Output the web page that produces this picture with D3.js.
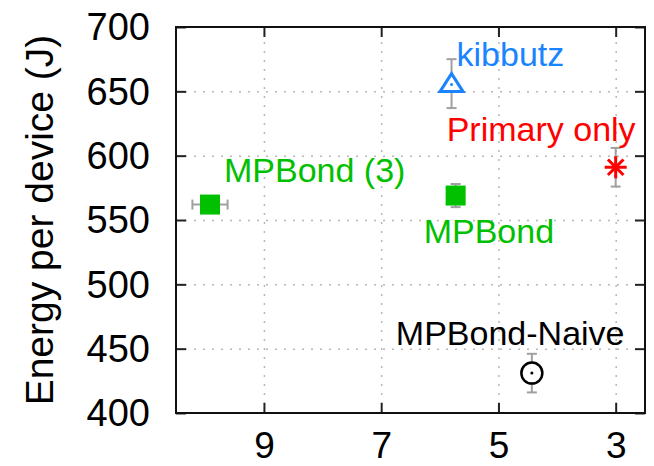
<!DOCTYPE html>
<html><head><meta charset="utf-8">
<script src="https://cdn.jsdelivr.net/npm/d3@7"></script>
<style>
html,body{margin:0;padding:0;background:#fff;}
svg{display:block;font-family:"Liberation Sans",Arial,Helvetica,sans-serif;}
</style></head>
<body>
<svg id="chart" width="654" height="466"></svg>
<script>
// ---- data ----
const names  = ["MPBond (3)", "MPBond", "kibbutz", "Primary only", "MPBond-Naive"];
const xVals  = [9.92, 5.73, 5.8, 3.0, 4.43];
const yVals  = [562, 569, 656, 591, 431];
const xErrs  = [0.3, 0, 0, 0, 0];
const yErrs  = [0, 9, 19, 15, 15];
const xTicks = [9, 7, 5, 3];
const yTicks = [400, 450, 500, 550, 600, 650, 700];
const yLabel = "Energy per device (J)";

// ---- style ----
const markers = ["square", "square", "triangle", "asterisk", "circle"];
const colors  = ["#00c000", "#00c000", "#1a84ff", "#ff0000", "#000000"];
const labelOff = [[14,-23],[-32,47],[5,-18],[-169,-26],[-136,-28]];

const L = 176, R = 645, T = 27, B = 413;
const svg = d3.select("#chart");
const x = d3.scaleLinear().domain([10.5, 2.5]).range([L, R]);
const y = d3.scaleLinear().domain([400, 700]).range([B, T]);

// grid
const gx = svg.append("g").attr("transform", `translate(0,${B})`)
  .call(d3.axisBottom(x).tickValues(xTicks).tickSize(-(B - T)).tickFormat(""));
const gy = svg.append("g").attr("transform", `translate(${L},0)`)
  .call(d3.axisLeft(y).tickValues(yTicks.slice(1, -1)).tickSize(-(R - L)).tickFormat(""));
[gx, gy].forEach(g => {
  g.select(".domain").remove();
  g.selectAll(".tick line").attr("stroke", "#b8b8b8").attr("stroke-width", 1.5)
    .attr("stroke-dasharray", "2,7");
});

// axes with inward ticks
const ax = svg.append("g").attr("transform", `translate(0,${B})`)
  .call(d3.axisBottom(x).tickValues(xTicks).tickSize(-10).tickPadding(18.5));
const axT = svg.append("g").attr("transform", `translate(0,${T})`)
  .call(d3.axisTop(x).tickValues(xTicks).tickSize(-10).tickFormat(""));
const ay = svg.append("g").attr("transform", `translate(${L},0)`)
  .call(d3.axisLeft(y).tickValues(yTicks).tickSize(-10).tickPadding(26));
const ayR = svg.append("g").attr("transform", `translate(${R},0)`)
  .call(d3.axisRight(y).tickValues(yTicks).tickSize(-10).tickFormat(""));
[ax, axT, ay, ayR].forEach(g => {
  g.select(".domain").remove();
  g.selectAll(".tick line").attr("stroke", "#222").attr("stroke-width", 2);
  g.selectAll(".tick text").attr("font-size", 38).attr("fill", "#000")
    .attr("font-family", "Liberation Sans, Arial, sans-serif");
});
ax.selectAll(".tick text").attr("font-size", 37);
ay.selectAll(".tick text").attr("dy", "0.34em");

// frame
svg.append("rect").attr("x", L).attr("y", T).attr("width", R - L).attr("height", B - T)
  .attr("fill", "none").attr("stroke", "#111").attr("stroke-width", 2);

// y label
svg.append("text")
  .attr("transform", `translate(53,${(T + B) / 2}) rotate(-90)`)
  .attr("text-anchor", "middle").attr("font-size", 39).attr("fill", "#000")
  .text(yLabel);

// error bars
const eb = svg.append("g").attr("stroke", "#a0a0a0").attr("stroke-width", 2);
names.forEach((n, i) => {
  const cx = x(xVals[i]), cy = y(yVals[i]);
  if (yErrs[i] > 0) {
    const y1 = y(yVals[i] + yErrs[i]), y2 = y(yVals[i] - yErrs[i]);
    eb.append("line").attr("x1", cx).attr("x2", cx).attr("y1", y1).attr("y2", y2);
    [y1, y2].forEach(v => eb.append("line").attr("x1", cx - 5).attr("x2", cx + 5).attr("y1", v).attr("y2", v));
  }
  if (xErrs[i] > 0) {
    const x1 = x(xVals[i] + xErrs[i]), x2 = x(xVals[i] - xErrs[i]);
    eb.append("line").attr("x1", x1).attr("x2", x2).attr("y1", cy).attr("y2", cy);
    [x1, x2].forEach(v => eb.append("line").attr("x1", v).attr("x2", v).attr("y1", cy - 5).attr("y2", cy + 5));
  }
});

// markers
const mk = svg.append("g");
names.forEach((n, i) => {
  const cx = x(xVals[i]), cy = y(yVals[i]), c = colors[i];
  const g = mk.append("g").attr("transform", `translate(${cx},${cy})`);
  if (markers[i] === "square") {
    g.append("rect").attr("x", -10).attr("y", -10).attr("width", 20).attr("height", 20).attr("fill", c);
  } else if (markers[i] === "triangle") {
    g.append("path").attr("d", "M0,-10 L11.5,8 L-11.5,8 Z").attr("fill", "#fff")
      .attr("stroke", c).attr("stroke-width", 3).attr("stroke-linejoin", "miter");
    g.append("circle").attr("r", 1.5).attr("fill", c).attr("cy", 1);
  } else if (markers[i] === "circle") {
    g.append("circle").attr("r", 10.5).attr("fill", "#fff").attr("stroke", c).attr("stroke-width", 2.5);
    g.append("circle").attr("r", 1.5).attr("fill", c);
  } else if (markers[i] === "asterisk") {
    [0, 45, 90, 135].forEach(a => g.append("line").attr("x1", -11).attr("x2", 11)
      .attr("transform", `rotate(${a})`).attr("stroke", c).attr("stroke-width", 3));
  }
});

// labels
names.forEach((n, i) => {
  svg.append("text")
    .attr("x", x(xVals[i]) + labelOff[i][0]).attr("y", y(yVals[i]) + labelOff[i][1])
    .attr("font-size", 34).attr("fill", colors[i]).text(n);
});
</script>
</body></html>
